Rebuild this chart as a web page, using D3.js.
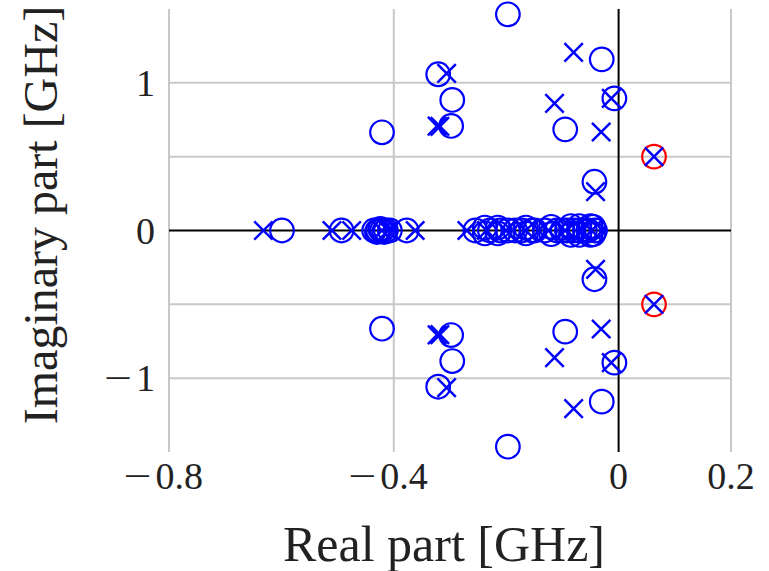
<!DOCTYPE html>
<html>
<head>
<meta charset="utf-8">
<title>Poles and zeros</title>
<script src="https://d3js.org/d3.v7.min.js"></script>
<style>
  body { margin: 0; background: #fff; }
  text { font-family: "Liberation Serif", "DejaVu Serif", serif; fill: #222; }
</style>
</head>
<body>
<script>
// poles (x markers), [real, imag] in GHz
const poles = [
  [-0.632, 0], [-0.510, 0], [-0.475, 0], [-0.421, 0], [-0.410, 0], [-0.362, 0],
  [-0.270, 0], [-0.235, 0], [-0.200, 0], [-0.165, 0], [-0.125, 0], [-0.095, 0],
  [-0.065, 0], [-0.048, 0],
  [-0.306, 1.064], [-0.323, 0.707], [-0.318, 0.705], [-0.114, 0.861],
  [-0.080, 1.206], [-0.031, 0.667], [-0.013, 0.895], [-0.041, 0.263], [0.063, 0.5],
  [-0.306, -1.064], [-0.323, -0.707], [-0.318, -0.705], [-0.114, -0.861],
  [-0.080, -1.206], [-0.031, -0.667], [-0.013, -0.895], [-0.041, -0.263], [0.063, -0.5]
];

// zeros (o markers)
const zeros = [
  [-0.599, 0], [-0.493, 0], [-0.435, 0], [-0.430, -0.01], [-0.428, 0], [-0.424, 0.01],
  [-0.421, 0], [-0.417, -0.01], [-0.414, 0], [-0.407, 0], [-0.377, 0],
  [-0.255, 0], [-0.238, 0.02], [-0.238, -0.02], [-0.229, 0], [-0.215, 0.02], [-0.215, -0.02],
  [-0.211, 0], [-0.197, 0], [-0.184, 0], [-0.172, 0], [-0.165, 0.02], [-0.165, -0.02],
  [-0.154, 0], [-0.149, 0], [-0.131, 0], [-0.120, 0.025], [-0.120, -0.025],
  [-0.110, 0], [-0.100, 0], [-0.092, 0], [-0.085, 0.03], [-0.085, -0.03], [-0.080, 0],
  [-0.070, 0.03], [-0.070, -0.03], [-0.069, 0], [-0.060, 0], [-0.054, 0],
  [-0.050, 0.03], [-0.050, -0.03], [-0.042, 0], [-0.045, 0.025], [-0.045, -0.025],
  [-0.197, 1.464], [-0.030, 1.159], [-0.0075, 0.895], [-0.095, 0.685], [-0.043, 0.330],
  [-0.321, 1.058], [-0.296, 0.884], [-0.298, 0.708], [-0.421, 0.665],
  [-0.197, -1.464], [-0.030, -1.159], [-0.0075, -0.895], [-0.095, -0.685], [-0.043, -0.330],
  [-0.321, -1.058], [-0.296, -0.884], [-0.298, -0.708], [-0.421, -0.665]
];

// unstable poles, ringed in red
const unstable = [[0.063, 0.5], [0.063, -0.5]];

const xTicks = [-0.8, -0.4, 0, 0.2];
const yTicks = [-1, 0, 1];
const yGrid = [-1, -0.5, 0, 0.5, 1];

const width = 769, height = 571;

const svg = d3.select("body").append("svg")
  .attr("width", width)
  .attr("height", height);

const x = d3.scaleLinear().domain([-0.8, 0.2]).range([169, 731]);
const y = d3.scaleLinear().domain([-1.5, 1.5]).range([452, 9]);

// grid
svg.append("g").selectAll("line")
  .data(xTicks.filter(d => d !== 0))
  .join("line")
  .attr("x1", d => x(d)).attr("x2", d => x(d))
  .attr("y1", y(1.5)).attr("y2", y(-1.5))
  .attr("stroke", "#c8c8c8").attr("stroke-width", 2);

svg.append("g").selectAll("line")
  .data(yGrid.filter(d => d !== 0))
  .join("line")
  .attr("x1", x(-0.8)).attr("x2", x(0.2))
  .attr("y1", d => y(d)).attr("y2", d => y(d))
  .attr("stroke", "#c8c8c8").attr("stroke-width", 2);

// axes through the origin
svg.append("line")
  .attr("x1", x(-0.8)).attr("x2", x(0.2))
  .attr("y1", y(0)).attr("y2", y(0))
  .attr("stroke", "#000").attr("stroke-width", 2);
svg.append("line")
  .attr("x1", x(0)).attr("x2", x(0))
  .attr("y1", y(1.5)).attr("y2", y(-1.5))
  .attr("stroke", "#000").attr("stroke-width", 2);

// tick labels, with a wide math-style minus sign
const tickSize = 38, minusW = 28, minusGap = 4;

function tickLabel(g, value, px, py, anchor) {
  const num = g.append("text")
    .attr("y", py)
    .attr("font-size", tickSize)
    .text(String(Math.abs(value)));
  const w = num.node().getComputedTextLength();
  let start;
  if (anchor === "end") start = px - w;
  else if (value < 0) start = px + 34 - w;
  else start = px - w / 2;
  num.attr("x", start);
  if (value < 0) {
    g.append("text")
      .attr("x", start - minusGap - minusW)
      .attr("y", py)
      .attr("font-size", tickSize)
      .attr("textLength", minusW)
      .attr("lengthAdjust", "spacingAndGlyphs")
      .text("\u2212");
  }
}

const xt = svg.append("g");
xTicks.forEach(d => tickLabel(xt, d, x(d), 489, "middle"));
const yt = svg.append("g");
yTicks.forEach(d => tickLabel(yt, d, 155, y(d) + 13, "end"));

// axis titles
svg.append("text")
  .attr("x", 444).attr("y", 561)
  .attr("text-anchor", "middle")
  .attr("font-size", 50)
  .text("Real part [GHz]");

svg.append("text")
  .attr("transform", "translate(57,215) rotate(-90)")
  .attr("text-anchor", "middle")
  .attr("font-size", 48)
  .text("Imaginary part [GHz]");

// markers
svg.append("g").selectAll("circle")
  .data(zeros)
  .join("circle")
  .attr("cx", d => x(d[0])).attr("cy", d => y(d[1]))
  .attr("r", 11.8)
  .attr("fill", "none")
  .attr("stroke", "#0000ff").attr("stroke-width", 2.2);

svg.append("g").selectAll("circle")
  .data(unstable)
  .join("circle")
  .attr("cx", d => x(d[0])).attr("cy", d => y(d[1]))
  .attr("r", 11.8)
  .attr("fill", "none")
  .attr("stroke", "#ff0000").attr("stroke-width", 2.2);

const s = 9.2;
svg.append("g").selectAll("path")
  .data(poles)
  .join("path")
  .attr("d", d => {
    const cx = x(d[0]), cy = y(d[1]);
    return `M${cx - s},${cy - s}L${cx + s},${cy + s}M${cx - s},${cy + s}L${cx + s},${cy - s}`;
  })
  .attr("fill", "none")
  .attr("stroke", "#0000ff").attr("stroke-width", 2.5);
</script>
</body>
</html>
